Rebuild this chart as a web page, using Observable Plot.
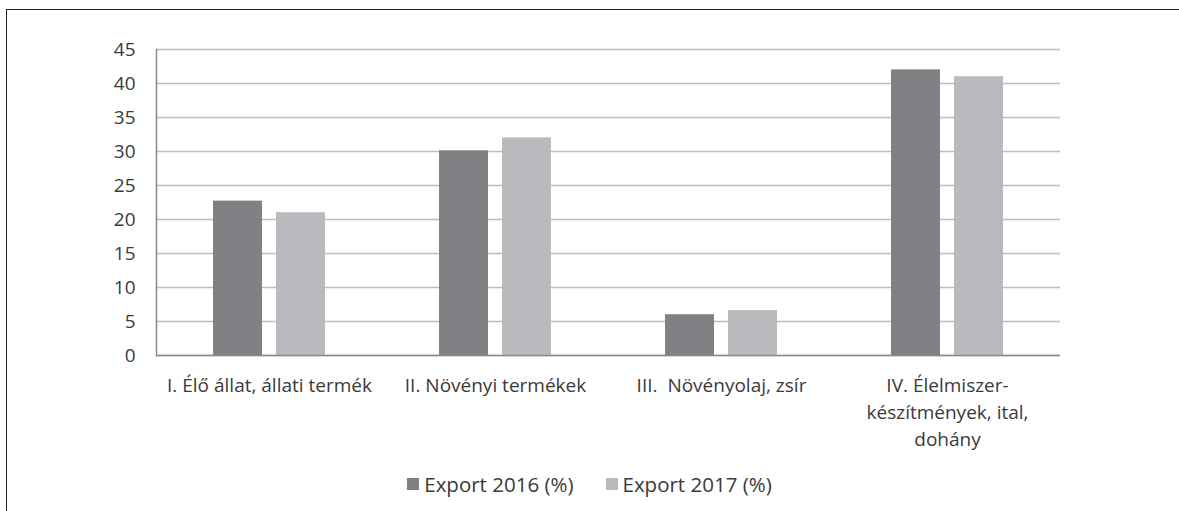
<!DOCTYPE html>
<html>
<head>
<meta charset="utf-8">
<script src="https://cdn.jsdelivr.net/npm/d3@7"></script>
<script src="https://cdn.jsdelivr.net/npm/@observablehq/plot@0.6"></script>
<style>
  html, body { margin: 0; padding: 0; background: #fff; }
  #wrap { position: relative; width: 1179px; height: 511px; overflow: hidden; font-family: "Open Sans", sans-serif; }
  #border { position: absolute; left: 6px; top: 9px; right: -10px; bottom: -10px; border-top: 1.5px solid #222; border-left: 1.5px solid #222; }
  #chart { position: absolute; left: 0; top: 0; }
  #legend { position: absolute; left: 0; right: 0; top: 471px; height: 26px; display: flex; justify-content: center; align-items: center; gap: 32px; font-size: 20.5px; color: #3a3a3a; }
  #legend .item { display: flex; align-items: center; gap: 5px; }
  #legend .sw { width: 12px; height: 12px; display: inline-block; }
</style>
</head>
<body>
<div id="wrap">
  <div id="border"></div>
  <div id="chart"></div>
  <div id="legend"></div>
</div>
<script>
const categories = ["I", "II", "III", "IV"];
const categoryLabels = [
  "I. Élő állat, állati termék",
  "II. Növényi termékek",
  "III.  Növényolaj, zsír",
  "IV. Élelmiszer-\nkészítmények, ital,\ndohány"
];
const seriesNames = ["Export 2016 (%)", "Export 2017 (%)"];
const export2016 = [22.7, 30.1, 6.0, 42.0];
const export2017 = [21.0, 32.0, 6.6, 41.0];
const seriesColors = ["#808184", "#b9babd"];
const yTicks = [0, 5, 10, 15, 20, 25, 30, 35, 40, 45];

const data = [];
categories.forEach((c, i) => {
  data.push({cat: c, series: seriesNames[0], value: export2016[i]});
  data.push({cat: c, series: seriesNames[1], value: export2017[i]});
});
const labelOf = new Map(categories.map((c, i) => [c, categoryLabels[i]]));

const chart = Plot.plot({
  width: 1179,
  height: 460,
  marginTop: 49,
  marginBottom: 105,
  marginLeft: 154,
  marginRight: 118,
  style: {fontFamily: "'Open Sans', sans-serif", fontSize: "19px", color: "#3a3a3a", background: "transparent"},
  fx: {domain: categories, padding: 0},
  x: {domain: seriesNames, paddingInner: 0.22, paddingOuter: 0.88, axis: null},
  y: {domain: [0, 45], axis: null},
  color: {domain: seriesNames, range: seriesColors},
  marks: [
    Plot.gridY(yTicks, {stroke: "#bdbdbd", strokeOpacity: 1, strokeWidth: 1.5}),
    Plot.barY(data, {fx: "cat", x: "series", y: "value", fill: "series"}),
    Plot.ruleY([0], {stroke: "#8a8a8a", strokeWidth: 1.5}),
    Plot.frame({anchor: "left", facetAnchor: "left", stroke: "#8a8a8a", strokeWidth: 1.5}),
    Plot.axisY(yTicks, {tickSize: 0, tickPadding: 21, fontSize: 19, fill: "#3a3a3a", label: null}),
    Plot.axisFx({anchor: "bottom", tickSize: 0, tickPadding: 18, fontSize: 19, lineHeight: 1.4, fill: "#3a3a3a", label: null, tickFormat: d => labelOf.get(d)})
  ]
});
document.getElementById("chart").appendChild(chart);

const legend = document.getElementById("legend");
seriesNames.forEach((s, i) => {
  const item = document.createElement("div");
  item.className = "item";
  const sw = document.createElement("span");
  sw.className = "sw";
  sw.style.background = seriesColors[i];
  const t = document.createElement("span");
  t.textContent = s;
  item.appendChild(sw);
  item.appendChild(t);
  legend.appendChild(item);
});
</script>
</body>
</html>
